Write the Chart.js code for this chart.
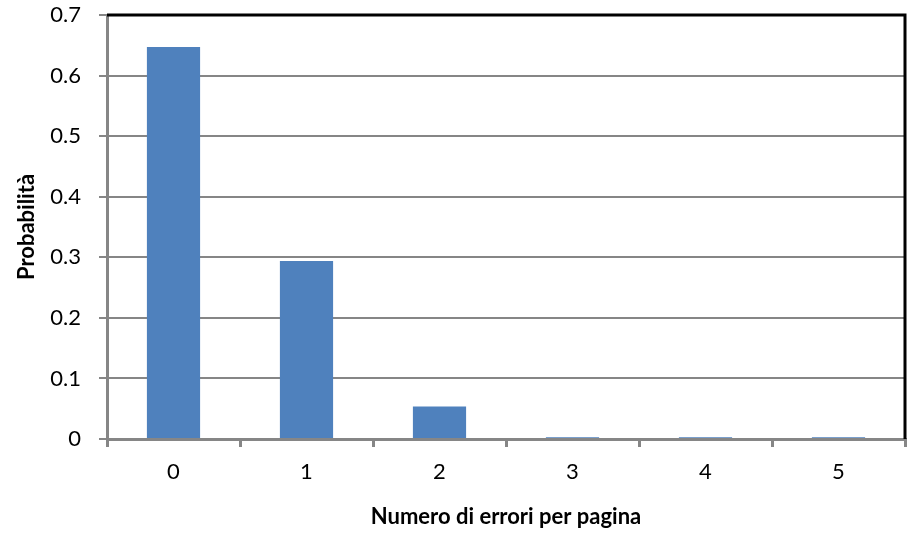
<!DOCTYPE html>
<html>
<head>
<meta charset="utf-8">
<script src="https://cdn.jsdelivr.net/npm/chart.js@4/dist/chart.umd.min.js"></script>
<style>
  html, body { margin: 0; padding: 0; background: #ffffff; }
  #wrap { width: 907px; height: 534px; }
</style>
</head>
<body>
<div id="wrap"><canvas id="c" width="907" height="534"></canvas></div>
<script>
// Errors per page and their probabilities
const categories = ['0', '1', '2', '3', '4', '5'];
const probabilities = [0.647, 0.294, 0.0535, 0.003, 0.003, 0.003];
const yTicks = [0, 0.1, 0.2, 0.3, 0.4, 0.5, 0.6, 0.7];
const xTitle = 'Numero di errori per pagina';
const yTitle = 'Probabilità';

const FONT = 'Lato, "Open Sans", sans-serif';
const GRID = '#868686';

// Black frame on the top and right of the plot area
const frame = {
  id: 'frame',
  afterDraw(chart) {
    const { ctx, chartArea: a } = chart;
    ctx.save();
    ctx.strokeStyle = '#000000';
    ctx.lineWidth = 3;
    ctx.beginPath();
    ctx.moveTo(a.left, a.top);
    ctx.lineTo(a.right, a.top);
    ctx.lineTo(a.right, a.bottom);
    ctx.stroke();
    ctx.restore();
  }
};

new Chart(document.getElementById('c'), {
  type: 'bar',
  data: {
    labels: categories,
    datasets: [{
      data: probabilities,
      backgroundColor: '#4F81BD',
      borderWidth: 0,
      categoryPercentage: 1,
      barPercentage: 0.4
    }]
  },
  options: {
    responsive: false,
    animation: false,
    layout: { padding: { top: 15, right: 2, left: 0, bottom: 0 } },
    plugins: { legend: { display: false }, tooltip: { enabled: false } },
    scales: {
      x: {
        offset: true,
        grid: { offset: true, drawOnChartArea: false, color: GRID, lineWidth: 3, tickLength: 8 },
        border: { color: GRID, width: 3 },
        ticks: { color: '#000', font: { family: FONT, size: 22 }, padding: 12, maxRotation: 0 },
        title: { display: true, text: xTitle, color: '#000', font: { family: FONT, size: 22, weight: 'bold' }, padding: { bottom: 4, top: 0 } },
        afterFit(s) { s.height = 95; s.paddingLeft = 0; s.paddingRight = 0; }
      },
      y: {
        min: 0,
        max: 0.7,
        afterBuildTicks(s) { s.ticks = yTicks.map(v => ({ value: v })); },
        grid: { color: GRID, lineWidth: 2, tickLength: 8 },
        border: { color: GRID, width: 3 },
        ticks: { color: '#000', font: { family: FONT, size: 22 }, padding: 18 },
        title: { display: true, text: yTitle, color: '#000', font: { family: FONT, size: 22, weight: 'bold' }, padding: { top: 14, bottom: 0 } },
        afterFit(s) { s.width = 107; s.paddingTop = 0; s.paddingBottom = 0; }
      }
    }
  },
  plugins: [frame]
});
</script>
</body>
</html>
